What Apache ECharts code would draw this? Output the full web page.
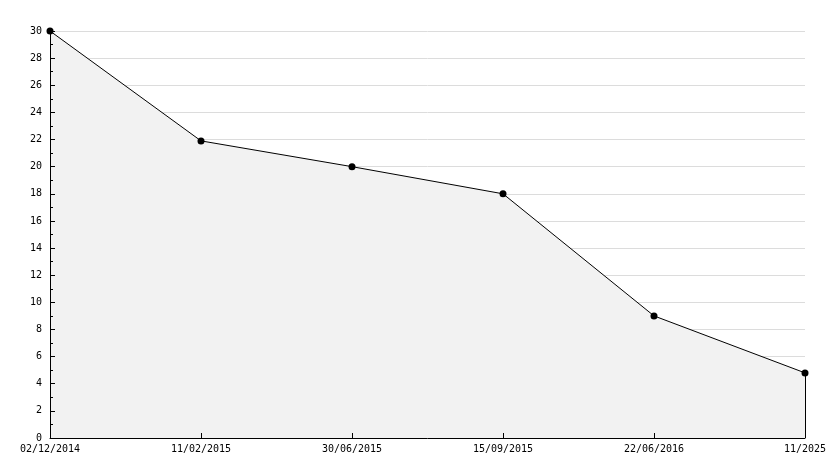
<!DOCTYPE html>
<html>
<head>
<meta charset="utf-8">
<script src="https://cdn.jsdelivr.net/npm/echarts@6/dist/echarts.min.js"></script>
<style>html,body{margin:0;padding:0;background:#fff;}#c{width:834px;height:468px;}</style>
</head>
<body>
<div id="c"></div>
<script>
const categories = ['02/12/2014', '11/02/2015', '30/06/2015', '15/09/2015', '22/06/2016', '11/2025'];
const values = [30, 21.9, 20, 18, 9, 4.8];

const chart = echarts.init(document.getElementById('c'));
const font = 'DejaVu Sans Mono';
chart.setOption({
  animation: false,
  grid: { left: 50, right: 29, top: 31, bottom: 30 },
  xAxis: {
    type: 'category',
    data: categories,
    boundaryGap: false,
    z: 5,
    axisLine: { lineStyle: { color: '#000', width: 1 } },
    axisTick: { inside: true, length: 5, lineStyle: { color: '#000' } },
    axisLabel: { color: '#000', fontFamily: font, fontSize: 10, margin: 6, showMinLabel: true, showMaxLabel: true },
    splitLine: { show: false }
  },
  yAxis: [{
    type: 'value',
    min: 0, max: 30, interval: 2,
    position: 'left',
    axisLine: { show: false },
    axisTick: { show: false },
    axisLabel: { show: false },
    splitLine: { show: true, lineStyle: { color: '#dcdcdc', width: 1 } }
  }, {
    type: 'value',
    min: 0, max: 30, interval: 2,
    position: 'left',
    z: 5,
    axisLine: { show: true, lineStyle: { color: '#000', width: 1 } },
    axisTick: { show: true, inside: true, length: 5, lineStyle: { color: '#000' } },
    minorTick: { show: true, splitNumber: 2, length: 3, lineStyle: { color: '#000' } },
    axisLabel: { color: '#000', fontFamily: font, fontSize: 10, margin: 8 },
    splitLine: { show: false }
  }],
  series: [{
    type: 'line',
    yAxisIndex: 0,
    data: values,
    symbol: 'circle',
    symbolSize: 7,
    itemStyle: { color: '#000' },
    lineStyle: { color: '#000', width: 1 },
    areaStyle: { color: '#f2f2f2', opacity: 1 },
    markLine: {
      silent: true,
      symbol: 'none',
      label: { show: false },
      lineStyle: { color: '#000', width: 1, type: 'solid' },
      data: [[{ coord: [categories[categories.length - 1], 0] }, { coord: [categories[categories.length - 1], values[values.length - 1]] }]]
    }
  }]
});
</script>
</body>
</html>
